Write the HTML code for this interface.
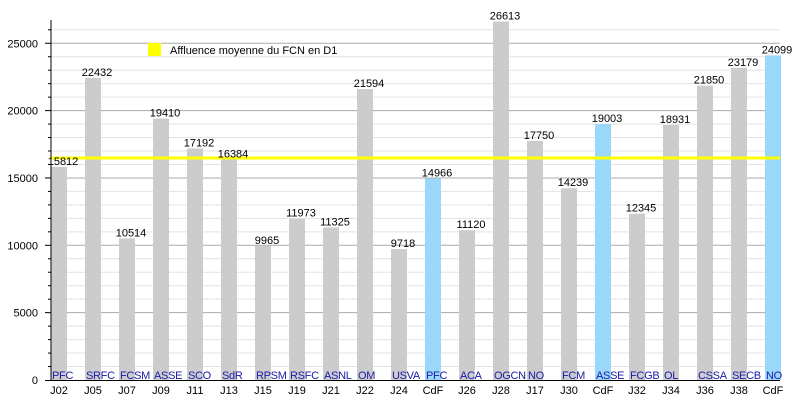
<!DOCTYPE html>
<html><head><meta charset="utf-8"><style>
html,body{margin:0;padding:0;background:#fff;}
svg{display:block;font-family:"Liberation Sans",sans-serif;}
</style></head><body>
<svg width="800" height="400" xmlns="http://www.w3.org/2000/svg">
<g id="grid"></g>
<g id="bars"></g>
<script>
var ns="http://www.w3.org/2000/svg";
function el(t,a,txt,p){var e=document.createElementNS(ns,t);for(var k in a)e.setAttribute(k,a[k]);if(txt!=null)e.textContent=txt;(p||document.querySelector('svg')).appendChild(e);return e;}
var S=0.01347,B=380;
var g=document.getElementById('grid');
for(var v=1000;v<=26000;v+=1000){var y=B-v*S;var maj=v%5000==0;
el('line',{x1:51,x2:780,y1:y,y2:y,stroke:maj?'#aaa':'#e2e2e2','stroke-width':1},null,g);
el('line',{x1:maj?45:48,x2:51,y1:y,y2:y,stroke:'#000','stroke-width':1},null,g);
if(maj)el('text',{x:38,y:y+4,'font-size':11,'text-anchor':'end',fill:'#000'},String(v),g);}
el('text',{x:38,y:384,'font-size':11,'text-anchor':'end'},'0',g);
var d=[[15812,'PFC','J02'],[22432,'SRFC','J05'],[10514,'FCSM','J07'],[19410,'ASSE','J09'],[17192,'SCO','J11'],[16384,'SdR','J13'],[9965,'RPSM','J15'],[11973,'RSFC','J19'],[11325,'ASNL','J21'],[21594,'OM','J22'],[9718,'USVA','J24'],[14966,'PFC','CdF',1],[11120,'ACA','J26'],[26613,'OGCN','J28'],[17750,'NO','J17'],[14239,'FCM','J30'],[19003,'ASSE','CdF',1],[12345,'FCGB','J32'],[18931,'OL','J34'],[21850,'CSSA','J36'],[23179,'SECB','J38'],[24099,'NO','CdF',1]];
var bg=document.getElementById('bars');
d.forEach(function(r,i){var x=51+34*i,h=r[0]*S;
el('rect',{x:x,y:B-h,width:16,height:h,fill:r[3]?'#99d8fb':'#cccccc'},null,bg);});
el('rect',{x:51,y:156.5,width:729,height:3,fill:'#ffff00'});
d.forEach(function(r,i){var x=51+34*i,h=r[0]*S;
el('text',{x:x+12,y:B-h-2,'font-size':11,'text-anchor':'middle',fill:'#000'},String(r[0]));
el('text',{x:x+1,y:379,'font-size':11,fill:'#1a1aa8','letter-spacing':'-0.3'},r[1]);
el('text',{x:x+8,y:394,'font-size':11,'text-anchor':'middle',fill:'#000'},r[2]);});
el('line',{x1:51,x2:51,y1:20,y2:381,stroke:'#000','stroke-width':1});
el('line',{x1:45,x2:780,y1:380.5,y2:380.5,stroke:'#000','stroke-width':1});
el('rect',{x:148,y:43,width:13,height:13,fill:'#ffff00'});
el('text',{x:170,y:54,'font-size':11,fill:'#000'},'Affluence moyenne du FCN en D1');
</script>
</svg>
</body></html>
